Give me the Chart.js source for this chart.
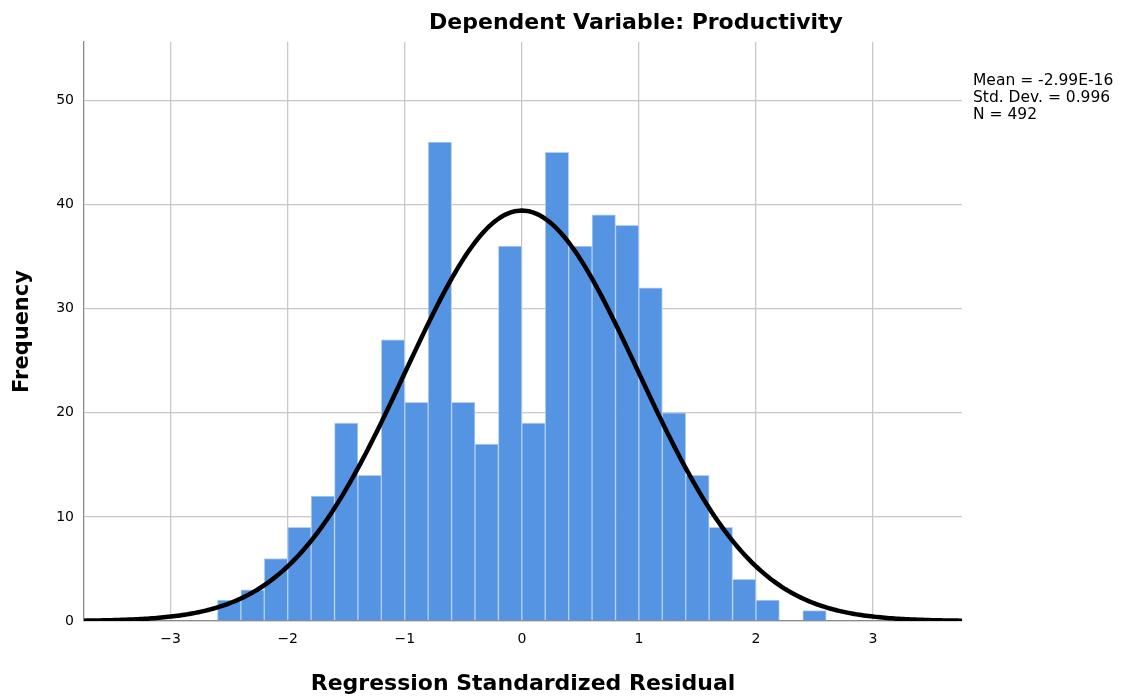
<!DOCTYPE html>
<html>
<head>
<meta charset="utf-8">
<script src="https://cdn.jsdelivr.net/npm/chart.js@4.4.1/dist/chart.umd.min.js"></script>
<style>
  html, body { margin: 0; padding: 0; background: #fff; }
  #wrap { width: 1130px; height: 697px; position: relative; }
</style>
</head>
<body>
<div id="wrap"><canvas id="histChart" width="1130" height="697"></canvas></div>
<script>
// bin centres (width 0.2) and counts
const binCenters = [-2.5, -2.3, -2.1, -1.9, -1.7, -1.5, -1.3, -1.1, -0.9, -0.7, -0.5, -0.3, -0.1,
                    0.1, 0.3, 0.5, 0.7, 0.9, 1.1, 1.3, 1.5, 1.7, 1.9, 2.1, 2.3, 2.5];
const frequencies = [2, 3, 6, 9, 12, 19, 14, 27, 21, 46, 21, 17, 36,
                     19, 45, 36, 39, 38, 32, 20, 14, 9, 4, 2, 0, 1];
const binWidth = 0.2;

// summary stats shown on the chart
const statMean = -2.99e-16;
const statStdDev = 0.996;
const statN = 492;
const statLines = ['Mean = -2.99E-16', 'Std. Dev. = 0.996', 'N = 492'];

const xMin = -3.74, xMax = 3.76;
const yMax = 55.6;

document.addEventListener("DOMContentLoaded", function(){
    // normal curve fitted to the stats above
    const curve = [];
    const scaleFactor = statN * binWidth / (statStdDev * Math.sqrt(2 * Math.PI));
    for (let i = 0; i <= 375; i++) {
        const x = xMin + i * 0.02;
        const z = (x - statMean) / statStdDev;
        curve.push({ x: x, y: scaleFactor * Math.exp(-0.5 * z * z) });
    }

    const bars = binCenters.map((c, i) => ({ x: c, y: frequencies[i] }));

    const textPlugin = {
        id: 'extraText',
        afterDraw(chart) {
            const ctx = chart.ctx;
            ctx.save();
            ctx.fillStyle = '#000';
            ctx.font = 'bold 22px "DejaVu Sans"';
            ctx.textAlign = 'center';
            ctx.textBaseline = 'middle';
            ctx.fillText('Dependent Variable: Productivity', 636, 23);

            ctx.font = '15.5px "DejaVu Sans"';
            ctx.textAlign = 'left';
            statLines.forEach((line, i) => {
                ctx.fillText(line, 973, 81 + i * 17);
            });
            ctx.restore();
        }
    };

    const ctx = document.getElementById('histChart').getContext('2d');
    new Chart(ctx, {
        data: {
            datasets: [
                {
                    type: 'line',
                    data: curve,
                    borderColor: '#000',
                    borderWidth: 4.5,
                    pointRadius: 0,
                    tension: 0,
                    order: 0
                },
                {
                    type: 'bar',
                    data: bars,
                    backgroundColor: '#5594e3',
                    borderColor: '#b3cff2',
                    borderWidth: 1,
                    barPercentage: 1,
                    categoryPercentage: 1,
                    order: 1
                }
            ]
        },
        options: {
            responsive: false,
            animation: false,
            layout: { padding: { top: 42, right: 168, left: 0, bottom: 0 } },
            plugins: {
                legend: { display: false },
                tooltip: { enabled: false }
            },
            scales: {
                x: {
                    type: 'linear',
                    min: xMin,
                    max: xMax,
                    offset: false,
                    afterFit(scale) { scale.height = 76; },
                    grid: { color: '#c8c8c8', lineWidth: 1.3, drawTicks: false, offset: false },
                    border: { color: '#8a8a8a', width: 1.3 },
                    ticks: {
                        stepSize: 1,
                        includeBounds: false,
                        padding: 10,
                        color: '#000',
                        font: { family: 'DejaVu Sans', size: 14 },
                        callback: v => (v < 0 ? '\u2212' + Math.abs(v) : String(v))
                    },
                    title: {
                        display: true,
                        text: 'Regression Standardized Residual',
                        color: '#000',
                        font: { family: 'DejaVu Sans', size: 22, weight: 'bold' },
                        padding: { top: 18, bottom: 0 }
                    }
                },
                y: {
                    min: 0,
                    max: yMax,
                    afterFit(scale) { scale.width = 84; },
                    grid: { color: '#c8c8c8', lineWidth: 1.3, drawTicks: false },
                    border: { color: '#8a8a8a', width: 1.3 },
                    ticks: {
                        stepSize: 10,
                        includeBounds: false,
                        padding: 10,
                        color: '#000',
                        font: { family: 'DejaVu Sans', size: 14 }
                    },
                    title: {
                        display: true,
                        text: 'Frequency',
                        color: '#000',
                        font: { family: 'DejaVu Sans', size: 21, weight: 'bold' },
                        padding: { top: 10, bottom: 0 }
                    }
                }
            }
        },
        plugins: [textPlugin]
    });
});
</script>
</body>
</html>
